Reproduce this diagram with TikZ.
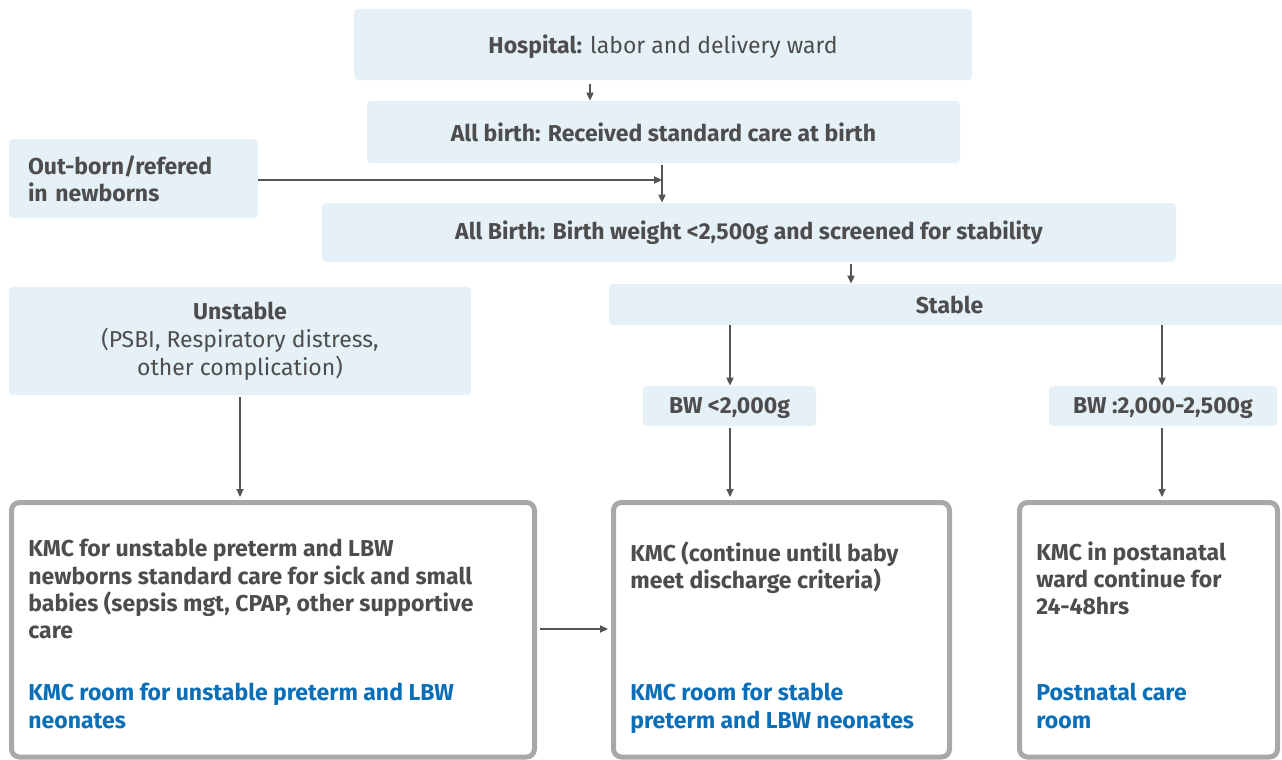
\documentclass[tikz,border=0pt]{standalone}
\usepackage{fontspec}
\setmainfont{Fira Sans}
\usetikzlibrary{arrows.meta,positioning}

\definecolor{boxblue}{HTML}{E5F0F7}
\definecolor{txtgray}{HTML}{4D4D4D}
\definecolor{roomblue}{HTML}{0B6FB8}
\definecolor{rimgray}{HTML}{A8A8A8}
\definecolor{linegray}{HTML}{555555}
\newcommand\chartfont{\fontsize{11.5}{13.6}\selectfont}

\tikzset{
  bluebox/.style={fill=boxblue, rounded corners=2pt, inner sep=0pt, text=txtgray, font=\chartfont\bfseries, align=center},
  roombox/.style={draw=rimgray, line width=2.5pt, fill=white, rounded corners=4pt, inner sep=0pt},
  flowarr/.style={draw=linegray, line width=0.6pt, -{Triangle[length=4pt,width=3.6pt]}},
  bodytext/.style={anchor=north west, align=left, text=txtgray, font=\chartfont\bfseries, inner sep=0pt},
  roomtext/.style={bodytext, text=roomblue},
}

\begin{document}
\begin{tikzpicture}[x=0.5pt,y=-0.5pt]
      \useasboundingbox (0,0) rectangle (1282,760);
      % top of the chart
      \node[bluebox, minimum width=309pt, minimum height=35.5pt, text depth=0pt, font=\chartfont] (hosp) at (663,44.5) {\textbf{Hospital:} labor and delivery ward};
      \node[bluebox, minimum width=296.5pt, minimum height=31pt] (allb) at (663.5,132) {All birth: Received standard care at birth};
      \node[bluebox, minimum width=124.5pt, minimum height=39.5pt, align=left, text width=105.5pt, inner xsep=9.5pt] (outb) at (133.5,178.5) {Out-born/refered\\in newborns};
      \node[bluebox, minimum width=427pt, minimum height=29.5pt] (weight) at (749,232.5) {All Birth: Birth weight <2,500g and screened for stability};
      % screening result
      \node[bluebox, minimum width=340.5pt, minimum height=20.5pt] (stable) at (949.5,304.5) {Stable};
      \node[bluebox, minimum width=231pt, minimum height=54pt, font=\fontsize{11.5}{14}\selectfont] (unstable) at (240,341) {\textbf{Unstable}\\(PSBI, Respiratory distress,\\other complication)};
      \node[bluebox, minimum width=86.5pt, minimum height=20pt, text depth=0pt] (bwlow) at (729.5,406) {BW <2,000g};
      \node[bluebox, minimum width=114pt, minimum height=20pt, text depth=0pt] (bwmid) at (1163,406) {BW :2,000-2,500g};
      % KMC rooms
      \node[roombox, minimum width=261.5pt, minimum height=127.25pt] (room1) at (273,629.75) {};
      \node[roombox, minimum width=168pt, minimum height=127.25pt] (room2) at (781.5,629.75) {};
      \node[roombox, minimum width=129pt, minimum height=127.25pt] (room3) at (1148.5,629.75) {};
      \node[bodytext] (care1) at (28,539) {KMC for unstable preterm and LBW\\newborns standard care for sick and small\\babies (sepsis mgt, CPAP, other supportive\\care};
      \node[roomtext] (place1) at (28,683) {KMC room for unstable preterm and LBW\\neonates};
      \node[bodytext] (care2) at (630,541) {KMC (continue untill baby\\meet discharge criteria)};
      \node[roomtext] (place2) at (630,683) {KMC room for stable\\preterm and LBW neonates};
      \node[bodytext] (care3) at (1036,541) {KMC in postanatal\\ward continue for\\24-48hrs};
      \node[roomtext] (place3) at (1036,683) {Postnatal care\\room};
      % arrow columns
      \coordinate (inx) at (590,0);
      \coordinate (joinx) at (662,180);
      \coordinate (stx) at (851,0);
      \coordinate (lcol) at (240,0);
      \coordinate (mcol) at (730,0);
      \coordinate (rcol) at (1162,0);
      \draw[flowarr, shorten <=2pt] (hosp.south -| inx) -- (allb.north -| inx);
      \draw[flowarr] (outb.east |- joinx) -- (joinx);
      \draw[flowarr, shorten <=1pt] (allb.south -| joinx) -- (weight.north -| joinx);
      \draw[flowarr, shorten <=1pt] (weight.south -| stx) -- (stable.north -| stx);
      \draw[flowarr, shorten <=1pt, shorten >=1.5pt] (unstable.south -| lcol) -- (room1.north -| lcol);
      \draw[flowarr] (stable.south -| mcol) -- (bwlow.north -| mcol);
      \draw[flowarr, shorten <=1pt, shorten >=1.5pt] (bwlow.south -| mcol) -- (room2.north -| mcol);
      \draw[flowarr] (stable.south -| rcol) -- (bwmid.north -| rcol);
      \draw[flowarr, shorten <=1pt, shorten >=1.5pt] (bwmid.south -| rcol) -- (room3.north -| rcol);
      \draw[flowarr, shorten <=1.5pt, shorten >=1.5pt] (room1.east |- 0,629) -- (room2.west |- 0,629);
\end{tikzpicture}
\end{document}
